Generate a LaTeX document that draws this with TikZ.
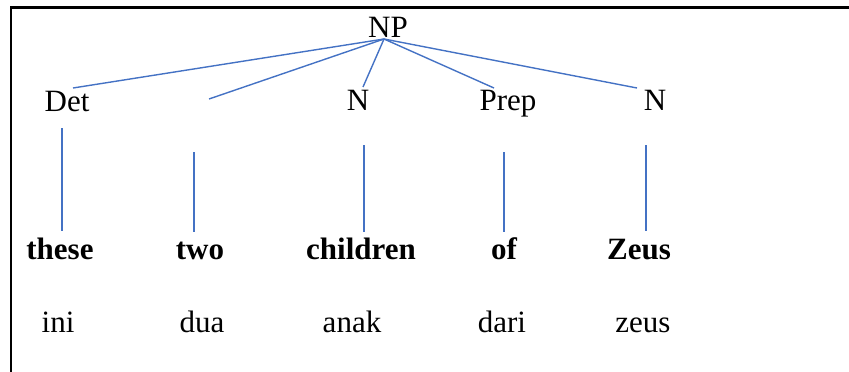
\documentclass[tikz,border=0pt]{standalone}
\usepackage{fontspec}
\setmainfont{Liberation Serif}
\definecolor{branch}{HTML}{4472C4}
\begin{document}
\begin{tikzpicture}[x=1pt,y=-1pt,
  lbl/.style={inner sep=0pt,anchor=base,font=\fontsize{31}{36}\selectfont},
  word/.style={lbl,font=\fontsize{31}{36}\selectfont\bfseries},
  edge/.style={draw=branch,line width=1.4pt},
  frame/.style={draw=black,line width=2.2pt}]
\useasboundingbox (0,0) rectangle (849,372);
% partial frame: left and top sides
\draw[frame] (11,372) -- (11,7.5) -- (849,7.5);

% category labels
\node[lbl] (np)    at (388,37)  {NP};
\node[lbl] (det)   at (67,111)  {Det};
\node[lbl] (n1)    at (358,110) {N};
\node[lbl] (prep)  at (508,110) {Prep};
\node[lbl] (n2)    at (655,110) {N};

% English words
\node[word] (these)    at (60,259)  {these};
\node[word] (two)      at (200,259) {two};
\node[word] (children) at (361,259) {children};
\node[word] (of)       at (504,259) {of};
\node[word] (zeus)     at (639,259) {Zeus};

% Indonesian glosses
\node[lbl] (ini)  at (58,332)  {ini};
\node[lbl] (dua)  at (202,332) {dua};
\node[lbl] (anak) at (352,332) {anak};
\node[lbl] (dari) at (502,332) {dari};
\node[lbl] (zg)   at (643,332) {zeus};

% branch end points
\coordinate (apex)  at (384,39);
\coordinate (bDet)  at (73,88);
\coordinate (bTwo)  at (209,99);
\coordinate (bN1)   at (363,87);
\coordinate (bPrep) at (494,88);
\coordinate (bN2)   at (637,88);

\draw[edge] (apex) -- (bDet);
\draw[edge] (apex) -- (bTwo);
\draw[edge] (apex) -- (bN1);
\draw[edge] (apex) -- (bPrep);
\draw[edge] (apex) -- (bN2);

% vertical links from categories down to words
\coordinate (vDetT) at (62,128);  \coordinate (vDetB) at (62,231);
\coordinate (vTwoT) at (194,152); \coordinate (vTwoB) at (194,232);
\coordinate (vN1T)  at (364,145); \coordinate (vN1B)  at (364,232);
\coordinate (vOfT)  at (504,152); \coordinate (vOfB)  at (504,232);
\coordinate (vN2T)  at (646,145); \coordinate (vN2B)  at (646,231);

\draw[edge] (vDetT) -- (vDetB);
\draw[edge] (vTwoT) -- (vTwoB);
\draw[edge] (vN1T)  -- (vN1B);
\draw[edge] (vOfT)  -- (vOfB);
\draw[edge] (vN2T)  -- (vN2B);
\end{tikzpicture}
\end{document}
